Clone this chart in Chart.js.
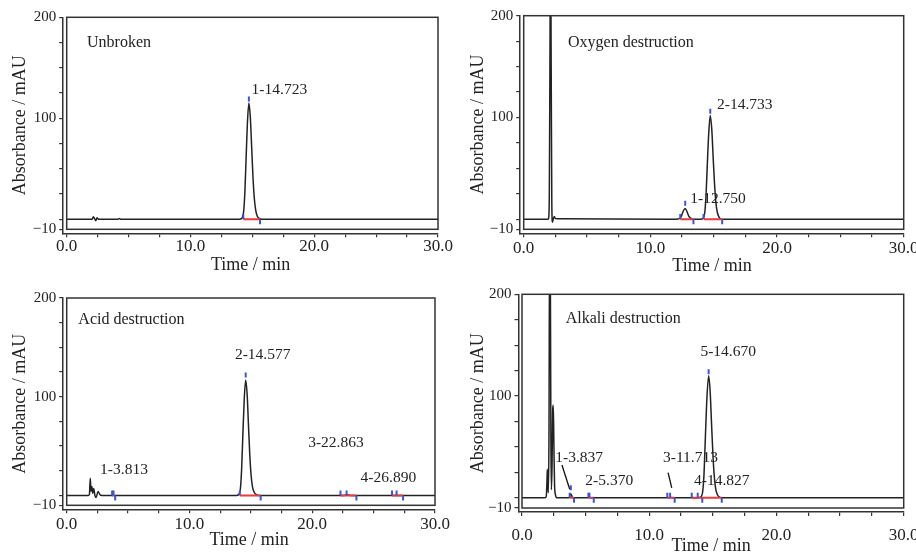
<!DOCTYPE html>
<html><head><meta charset="utf-8">
<script src="https://cdn.jsdelivr.net/npm/chart.js@4.4.1/dist/chart.umd.min.js"></script>
<style>
html,body{margin:0;padding:0;background:#fff;}
#wrap{position:relative;width:916px;height:552px;overflow:hidden;background:#fff;}
canvas{position:absolute;}
</style></head><body>
<div id="wrap">
<canvas id="c1" width="458" height="276" style="left:0;top:0"></canvas>
<canvas id="c2" width="458" height="276" style="left:458px;top:0"></canvas>
<canvas id="c3" width="458" height="276" style="left:0;top:276px"></canvas>
<canvas id="c4" width="458" height="276" style="left:458px;top:276px"></canvas>
</div>
<script>
// ---------- axis ticks ----------
const xTickValues = [0,2.5,5,7.5,10,12.5,15,17.5,20,22.5,25,27.5,30];
const xTickLabels = [0,10,20,30];
const yTickValues = [-10,0,25,50,75,100,125,150,175,200];
const yTickLabels = [-10,100,200];

// ---------- Unbroken ----------
const unbrokenTrace = [[0,0],[2.05,0],[2.15,2.5],[2.25,0.5],[2.35,-1.5],[2.45,1.5],[2.55,0],[4.15,0],[4.25,0.8],[4.35,0],
  [14.0,0],[14.1,0.5],[14.2,2],[14.3,8],[14.4,28],[14.5,62],[14.6,95],[14.72,115],[14.84,100],[14.95,70],[15.05,42],[15.15,22],[15.27,9],[15.4,3],[15.55,0.8],[15.75,0],[30,0]];
const unbrokenMarks = [[14.27,2.5],[14.72,119],[15.62,-2.5]];
const unbrokenBaselines = [[14.27,15.62]];
const unbrokenLabels = ['1-14.723'];
const unbrokenLabelPos = [[14.94,128]];

// ---------- Oxygen destruction ----------
const oxygenTrace = [[0,0],[1.95,0],[2.02,20],[2.07,150],[2.12,280],[2.17,150],[2.22,15],[2.27,-3],[2.33,0],[2.42,2.5],[2.5,0.5],[3.0,0.3],
  [12.0,0],[12.3,0.5],[12.45,3],[12.6,8],[12.75,10.5],[12.9,7],[13.03,3],[13.18,1],[13.4,0],
  [14.0,0],[14.2,1.5],[14.3,7],[14.4,25],[14.5,55],[14.61,85],[14.73,102],[14.85,88],[14.96,60],[15.06,36],[15.16,18],[15.28,7],[15.42,2],[15.6,0],[30,0]];
const oxygenMarks = [[12.36,2.5],[12.75,15.5],[13.4,-2.5],[14.2,2.5],[14.73,106],[15.67,-2.5]];
const oxygenBaselines = [[12.36,13.4],[14.2,15.67]];
const oxygenLabels = ['1-12.750','2-14.733'];
const oxygenLabelPos = [[13.15,19.8],[15.26,112]];

// ---------- Acid destruction ----------
const acidTrace = [[0,0],[1.75,0],[1.85,1],[1.92,17.5],[1.98,4],[2.05,9],[2.12,2],[2.2,7],[2.3,0],[2.4,-2],[2.55,4],[2.7,1],[2.85,0],
  [3.75,0],[3.82,0.5],[3.9,0],
  [13.85,0],[14.05,1.5],[14.15,7],[14.25,27],[14.35,62],[14.46,97],[14.58,117],[14.7,102],[14.81,70],[14.91,42],[15.01,22],[15.13,9],[15.28,3],[15.45,0.8],[15.65,0],
  [22.6,0],[22.86,0.8],[23.1,0],[30,0]];
const acidMarks = [[3.7,2.5],[3.81,2.5],[3.95,-2.5],[14.1,2.5],[14.58,122],[15.8,-2.5],[22.3,2.5],[22.8,2.5],[23.6,-2.5],[26.5,2.5],[26.87,2.5],[27.4,-2.5]];
const acidBaselines = [[3.7,3.95],[14.1,15.8],[22.3,23.6],[26.5,27.4]];
const acidLabels = ['1-3.813','2-14.577','3-22.863','4-26.890'];
const acidLabelPos = [[2.72,25.4],[13.7,142],[19.67,53.4],[23.94,18]];

// ---------- Alkali destruction ----------
const alkaliTrace = [[0,0],[1.75,0],[1.9,1],[1.96,15],[1.99,28],[2.03,12],[2.07,5],[2.12,60],[2.17,260],[2.22,250],[2.27,60],[2.31,8],[2.36,30],[2.42,88],[2.46,91],[2.51,50],[2.56,12],[2.63,3],[2.75,0],
  [3.7,0],[3.84,4],[3.98,0],[5.2,0],[5.3,0.7],[5.4,0],[11.6,0],[11.7,0.5],[11.8,0],
  [13.6,0],[13.95,0.3],[14.1,1.5],[14.2,6],[14.3,22],[14.4,55],[14.52,95],[14.67,120],[14.79,104],[14.9,72],[15.0,44],[15.1,23],[15.22,9],[15.36,3],[15.52,0.8],[15.7,0],[30,0]];
const alkaliMarks = [[3.75,2.5],[3.84,10],[4.09,-2.5],[5.22,2.5],[5.3,2.5],[5.64,-2.5],[11.42,2.5],[11.64,2.5],[12.0,-2.5],
  [13.34,2.5],[13.81,2.5],[14.17,-2.5],[15.7,-2.5],[14.67,124]];
const alkaliBaselines = [[3.75,4.09],[5.22,5.64],[11.42,12.0],[13.34,15.7]];
const alkaliLabels = ['1-3.837','2-5.370','3-11.713','4-14.827','5-14.670'];
const alkaliLabelPos = [[2.62,39.4],[4.98,16.5],[11.08,39.4],[13.52,16.5],[14.02,143.3]];
const alkaliLeaders = [[[3.14,32.3],[3.75,8.4]],[[11.48,24.7],[11.77,9.7]]];

// ---------- drawing ----------
const SERIF = "'Liberation Serif','Times New Roman',serif";
const INK = '#222';
const LINE = '#333';
const W = 458, H = 276;

function makePanel(id, g, d) {
  const pxX = (g.x30 - g.x0) / 30;
  const pxY = (g.yM10 - g.y200) / 210;
  const xMin = -3.5 / pxX;
  const yMin = -10 - 4 / pxY;
  const toXY = arr => arr.map(p => ({x: p[0], y: p[1]}));
  const datasets = [];
  datasets.push({data: toXY(d.marks), showLine: false, pointStyle: 'line', pointRotation: 90,
    pointRadius: 2.5, pointBorderWidth: 2, pointBorderColor: '#3a55d6', pointBackgroundColor: '#3a55d6'});
  d.baselines.forEach(b => datasets.push({data: [{x: b[0], y: 0}, {x: b[1], y: 0}],
    borderColor: '#f03a3a', borderWidth: 2, pointRadius: 0}));
  datasets.push({data: toXY(d.trace), borderColor: '#222', borderWidth: 1.5, pointRadius: 0,
    cubicInterpolationMode: 'monotone'});

  const textPlugin = {
    id: 'annot' + id,
    afterDatasetsDraw(chart) {
      const ctx = chart.ctx, xs = chart.scales.x, ys = chart.scales.y;
      ctx.save();
      ctx.strokeStyle = LINE; ctx.lineWidth = 1.5;
      const l = xs.getPixelForValue(0), r = xs.getPixelForValue(30);
      const t = ys.getPixelForValue(200), b = ys.getPixelForValue(-10);
      ctx.strokeRect(l, t, r - l, b - t);
      ctx.fillStyle = INK; ctx.textBaseline = 'middle'; ctx.textAlign = 'left';
      ctx.font = '16px ' + SERIF;
      ctx.fillText(d.title, xs.getPixelForValue(d.titlePos[0]), ys.getPixelForValue(d.titlePos[1]));
      ctx.font = '15.5px ' + SERIF;
      d.labels.forEach((s, i) => ctx.fillText(s, xs.getPixelForValue(d.labelPos[i][0]), ys.getPixelForValue(d.labelPos[i][1])));
      if (d.leaders) {
        ctx.strokeStyle = '#111'; ctx.lineWidth = 1.3;
        d.leaders.forEach(ln => {
          ctx.beginPath();
          ctx.moveTo(xs.getPixelForValue(ln[0][0]), ys.getPixelForValue(ln[0][1]));
          ctx.lineTo(xs.getPixelForValue(ln[1][0]), ys.getPixelForValue(ln[1][1]));
          ctx.stroke();
        });
      }
      ctx.restore();
    }
  };

  new Chart(document.getElementById(id), {
    type: 'line',
    data: {datasets},
    plugins: [textPlugin],
    options: {
      responsive: false, animation: false, devicePixelRatio: 1,
      layout: {padding: {left: 0, top: g.y200, right: W - g.x30, bottom: 0}},
      plugins: {legend: {display: false}, tooltip: {enabled: false}},
      scales: {
        x: {
          type: 'linear', min: xMin, max: 30,
          afterBuildTicks: s => { s.ticks = xTickValues.map(v => ({value: v})); },
          afterFit: s => { s.height = H - (g.yM10 + 4); s.paddingLeft = 0; s.paddingRight = 0; },
          ticks: {autoSkip: false, maxRotation: 0, minRotation: 0, padding: g.tickPad, color: INK,
            font: {family: SERIF, size: 17, lineHeight: 1},
            callback: v => xTickLabels.includes(v) ? v.toFixed(1) : ''},
          grid: {drawOnChartArea: false, drawTicks: true, tickLength: 4, color: LINE, lineWidth: 1.2},
          border: {display: true, color: LINE, width: 1.5},
          title: {display: true, text: 'Time / min', color: INK,
            font: {family: SERIF, size: 18, lineHeight: 1}, padding: {top: 0, bottom: g.titlePad}}
        },
        y: {
          type: 'linear', min: yMin, max: 200,
          afterBuildTicks: s => { s.ticks = yTickValues.map(v => ({value: v})); },
          afterFit: s => { s.width = g.x0 - 3.5; s.paddingTop = 0; s.paddingBottom = 0; },
          ticks: {autoSkip: false, padding: 3, color: INK,
            font: {family: SERIF, size: 15, lineHeight: 1},
            callback: v => yTickLabels.includes(v) ? (v < 0 ? '\u2212' + Math.abs(v) : String(v)) : ''},
          grid: {drawOnChartArea: false, drawTicks: true, tickLength: 4, color: LINE, lineWidth: 1.2},
          border: {display: true, color: LINE, width: 1.5},
          title: {display: true, text: 'Absorbance / mAU', color: INK,
            font: {family: SERIF, size: 18, lineHeight: 1.2}, padding: {top: 9, bottom: 0}}
        }
      }
    }
  });
}

makePanel('c1', {x0: 66.7, x30: 438, y200: 17.3, yM10: 229.3, tickPad: 1.2, titlePad: 2},
  {trace: unbrokenTrace, marks: unbrokenMarks, baselines: unbrokenBaselines, title: 'Unbroken', titlePos: [1.64, 174.5],
   labels: unbrokenLabels, labelPos: unbrokenLabelPos});
makePanel('c2', {x0: 65.7, x30: 445.7, y200: 15.7, yM10: 229.3, tickPad: 3.2, titlePad: 0.3},
  {trace: oxygenTrace, marks: oxygenMarks, baselines: oxygenBaselines, title: 'Oxygen destruction', titlePos: [3.5, 173.8],
   labels: oxygenLabels, labelPos: oxygenLabelPos});
makePanel('c3', {x0: 66.7, x30: 435, y200: 22, yM10: 229.3, tickPad: 3, titlePad: 3},
  {trace: acidTrace, marks: acidMarks, baselines: acidBaselines, title: 'Acid destruction', titlePos: [0.95, 177.7],
   labels: acidLabels, labelPos: acidLabelPos});
makePanel('c4', {x0: 64, x30: 445.7, y200: 18.3, yM10: 232, tickPad: 11.5, titlePad: -3},
  {trace: alkaliTrace, marks: alkaliMarks, baselines: alkaliBaselines, title: 'Alkali destruction', titlePos: [3.43, 176.4],
   labels: alkaliLabels, labelPos: alkaliLabelPos, leaders: alkaliLeaders});
</script>
</body></html>
